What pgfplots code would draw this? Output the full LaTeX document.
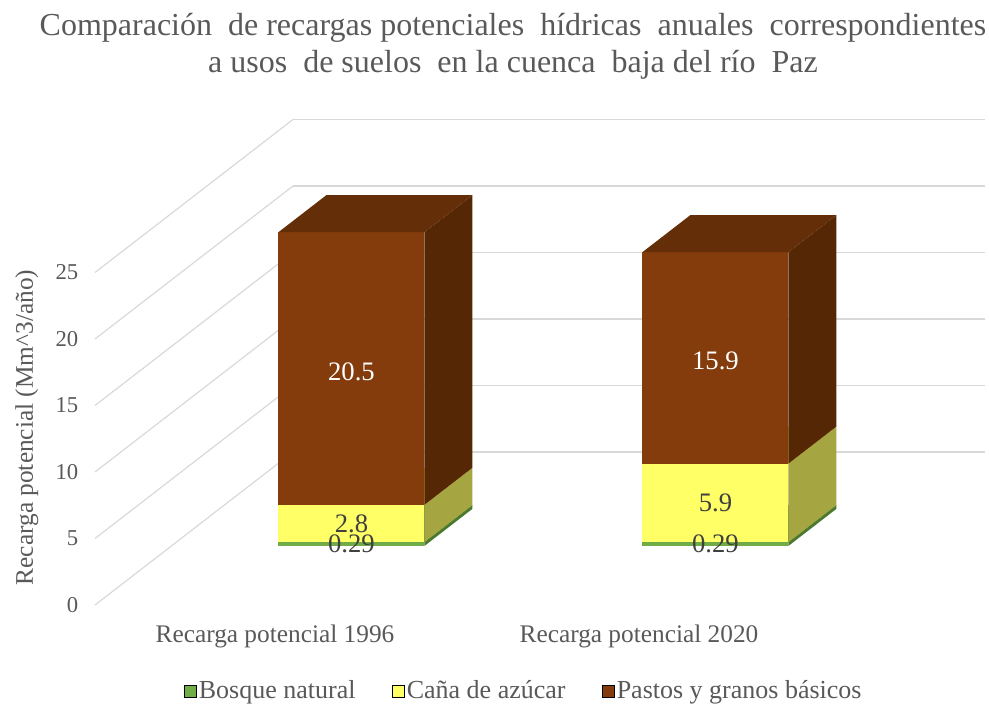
\documentclass[border=0pt]{standalone}
\usepackage{fontspec}
\setmainfont{Liberation Serif}
\usepackage{pgfplots}
\pgfplotsset{compat=1.18}
\usetikzlibrary{calc}
\definecolor{txt}{HTML}{595959}
\definecolor{grd}{HTML}{D9D9D9}
\definecolor{gF}{HTML}{70AD47}
\definecolor{gS}{HTML}{4B7A2E}
\definecolor{gT}{HTML}{5E9239}
\definecolor{yF}{HTML}{FFFF66}
\definecolor{yS}{HTML}{A5A541}
\definecolor{yT}{HTML}{D0D050}
\definecolor{bF}{HTML}{843C0C}
\definecolor{bS}{HTML}{562705}
\definecolor{bT}{HTML}{642E08}
% one stacked segment of a 3-D bar: #1 left x, #2 right x, #3 bottom, #4 top, #5 front, #6 side, #7 top colour
\newcommand{\seg}[7]{%
  \addplot3[fill=#5, draw=none, forget plot] coordinates {(#1,0.386,#3) (#2,0.386,#3) (#2,0.386,#4) (#1,0.386,#4)};
  \addplot3[fill=#6, draw=none, forget plot] coordinates {(#2,0.386,#3) (#2,0.628,#3) (#2,0.628,#4) (#2,0.386,#4)};
  \addplot3[fill=#7, draw=none, forget plot] coordinates {(#1,0.386,#4) (#2,0.386,#4) (#2,0.628,#4) (#1,0.628,#4)};
}
\begin{document}
\begin{tikzpicture}
\begin{axis}[
  x={(0.75pt,0pt)}, y={(148.5pt,114.75pt)}, z={(0pt,9.975pt)},
  xmin=0, xmax=692, ymin=0, ymax=1, zmin=0, zmax=25,
  xtick={180,544}, xticklabels={Recarga potencial 1996, Recarga potencial 2020},
  ytick=\empty, ztick={0,5,...,25},
  zmajorgrids, grid style={grd, line width=0.9pt},
  axis line style={draw=none}, major tick length=0pt,
  tick label style={text=txt},
  x tick label style={font=\fontsize{19}{22}\selectfont, anchor=base, yshift=-27.75pt},
  z tick label style={font=\fontsize{17}{20}\selectfont, anchor=east, xshift=-9pt},
  /pgf/number format/assume math mode=true,
  clip=false,
  legend columns=3,
  legend style={at={(0.482,-0.177)}, anchor=center, draw=none, fill=none,
    font=\fontsize{19.5}{22}\selectfont, text=txt,
    /tikz/every even column/.append style={column sep=25pt}},
  legend image code/.code={\fill[#1] (0pt,-4.5pt) rectangle (9pt,4.5pt);},
]
\coordinate (O) at (axis cs:0,0,0);
% Recarga potencial 1996: 0.29 / 2.8 / 20.5
\seg{107}{253}{0}{0.29}{gF}{gS}{gT}
\seg{107}{253}{0.29}{3.09}{yF}{yS}{yT}
\seg{107}{253}{3.09}{23.59}{bF}{bS}{bT}
% Recarga potencial 2020: 0.29 / 5.9 / 15.9
\seg{471}{617}{0}{0.29}{gF}{gS}{gT}
\seg{471}{617}{0.29}{6.19}{yF}{yS}{yT}
\seg{471}{617}{6.19}{22.09}{bF}{bS}{bT}
\addlegendimage{fill=gF}\addlegendentry{Bosque natural}
\addlegendimage{fill=yF}\addlegendentry{Caña de azúcar}
\addlegendimage{fill=bF}\addlegendentry{Pastos y granos básicos}
\begin{scope}[every node/.style={font=\fontsize{20}{22}\selectfont}]
\node[text=white] at (axis cs:180,0.386,13.1) {20.5};
\node[text=black!75] at (axis cs:180,0.386,1.69) {2.8};
\node[text=black!75] at (axis cs:180,0.386,0.145) {0.29};
\node[text=white] at (axis cs:544,0.386,13.9) {15.9};
\node[text=black!75] at (axis cs:544,0.386,3.24) {5.9};
\node[text=black!75] at (axis cs:544,0.386,0.145) {0.29};
\end{scope}
\end{axis}
\node[anchor=base, text=txt, font=\fontsize{24}{28}\selectfont] at ($(O)+(313.5pt,426.75pt)$) {Comparación\ \ de recargas potenciales\ \ hídricas\ \ anuales\ \ correspondientes};
\node[anchor=base, text=txt, font=\fontsize{24}{28}\selectfont] at ($(O)+(313.5pt,399pt)$) {a usos\ \ de suelos\ \ en la cuenca\ \ baja del río\ \ Paz};
\node[anchor=base, rotate=90, text=txt, font=\fontsize{19}{22}\selectfont] at ($(O)+(-46.5pt,133.1pt)$) {Recarga potencial (Mm\textasciicircum 3/año)};
\pgfresetboundingbox
\path[use as bounding box] ($(O)+(-71.25pt,-74.25pt)$) rectangle ($(O)+(670.5pt,453.75pt)$);
\end{tikzpicture}
\end{document}
